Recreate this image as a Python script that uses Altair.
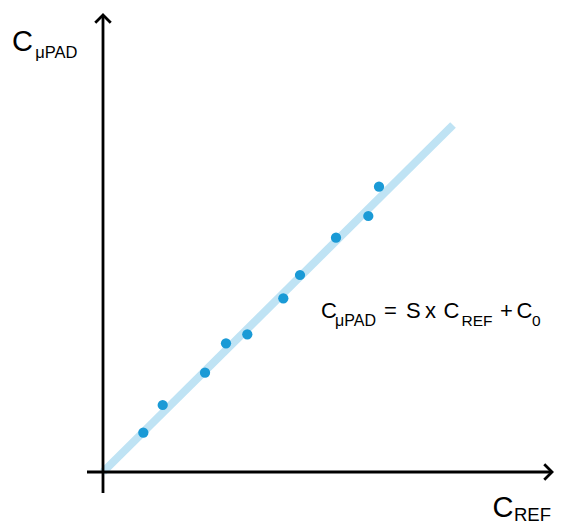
import altair as alt
import pandas as pd

# measured points (C_REF, C_uPAD) in arbitrary units
c_ref = [4.03, 5.97, 10.2, 12.3, 14.43, 18.03, 19.7, 23.3, 26.53, 27.6]
c_pad = [3.93, 6.7, 9.93, 12.87, 13.77, 17.37, 19.7, 23.43, 25.6, 28.53]

# fitted line endpoints
fit_x = [0.0, 35.0]
fit_y = [0.0, 34.7]

FONT = "Liberation Sans"
X_DOM = [-9.5, 45.1]
Y_DOM = [-5.3, 46.4]

xs = alt.Scale(domain=X_DOM, nice=False, zero=False)
ys = alt.Scale(domain=Y_DOM, nice=False, zero=False)

pts = pd.DataFrame({"x": c_ref, "y": c_pad})
fit = pd.DataFrame({"x": fit_x, "y": fit_y})

line = alt.Chart(fit).mark_line(color="#bfe3f4", strokeWidth=8, strokeCap="butt").encode(
    x=alt.X("x:Q", scale=xs, axis=None), y=alt.Y("y:Q", scale=ys, axis=None)
)
dots = alt.Chart(pts).mark_circle(color="#1a9ad6", size=105, opacity=1).encode(
    x=alt.X("x:Q", scale=xs, axis=None), y=alt.Y("y:Q", scale=ys, axis=None)
)

# axes
yaxis = alt.Chart(pd.DataFrame({"x": [0], "y": [-2.1], "y2": [45.6]})).mark_rule(
    color="black", strokeWidth=2.8
).encode(x=alt.X("x:Q", scale=xs, axis=None), y=alt.Y("y:Q", scale=ys, axis=None), y2="y2:Q")
xaxis = alt.Chart(pd.DataFrame({"x": [-1.6], "x2": [44.9], "y": [0]})).mark_rule(
    color="black", strokeWidth=2.8
).encode(x=alt.X("x:Q", scale=xs, axis=None), x2="x2:Q", y=alt.Y("y:Q", scale=ys, axis=None))

up_arrow = alt.Chart(pd.DataFrame({"x": [0], "y": [45.7]})).mark_point(
    shape="M -1 1 L 0 0 L 1 1", size=240, filled=False, color="black", strokeWidth=2.8,
    opacity=1, strokeJoin="miter"
).encode(x=alt.X("x:Q", scale=xs, axis=None), y=alt.Y("y:Q", scale=ys, axis=None))
right_arrow = alt.Chart(pd.DataFrame({"x": [44.9], "y": [0]})).mark_point(
    shape="M -1 -1 L 0 0 L -1 1", size=240, filled=False, color="black", strokeWidth=2.8,
    opacity=1, strokeJoin="miter"
).encode(x=alt.X("x:Q", scale=xs, axis=None), y=alt.Y("y:Q", scale=ys, axis=None))

# text pieces: (text, x, y, fontsize)
labels = [
    ("C", -9.1, 42.1, 29),
    ("μPAD", -6.78, 41.4, 16.5),
    ("C", 38.96, -4.47, 29),
    ("REF", 41.1, -4.9, 18.5),
    ("C", 21.8, 15.4, 22),
    ("μPAD", 23.2, 14.6, 16),
    ("=", 28.1, 15.4, 22),
    ("S", 30.3, 15.4, 22),
    ("x", 32.2, 15.4, 22),
    ("C", 34.05, 15.4, 22),
    ("REF", 35.85, 14.6, 15.5),
    ("+", 39.7, 15.4, 22),
    ("C", 41.35, 15.4, 22),
    ("0", 42.9, 14.6, 15.5),
]

texts = []
for t, x, y, fs in labels:
    texts.append(
        alt.Chart(pd.DataFrame({"x": [x], "y": [y], "t": [t]})).mark_text(
            align="left", baseline="alphabetic", font=FONT, fontSize=fs, color="black"
        ).encode(x=alt.X("x:Q", scale=xs, axis=None), y=alt.Y("y:Q", scale=ys, axis=None), text="t:N")
    )

chart = alt.layer(line, dots, yaxis, xaxis, up_arrow, right_arrow, *texts).properties(
    width=546, height=517, padding=0, autosize=alt.AutoSizeParams(type="none")
).configure_view(stroke=None)

chart.save("out.html", embed_options={"renderer": "svg", "actions": False})
